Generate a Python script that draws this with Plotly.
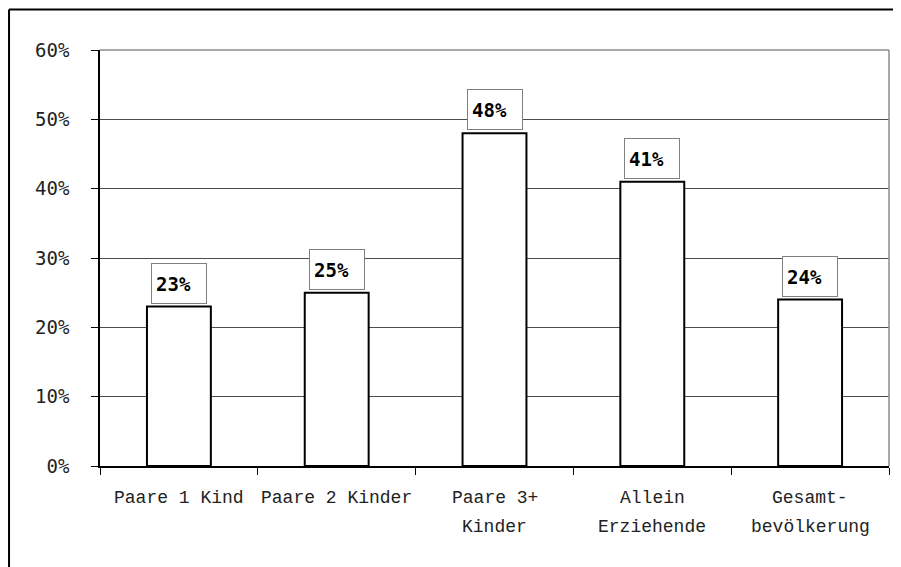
import plotly.graph_objects as go

categories = ["Paare 1 Kind", "Paare 2 Kinder", "Paare 3+ Kinder", "Allein Erziehende", "Gesamt-bevölkerung"]
label_line1 = ["Paare 1 Kind", "Paare 2 Kinder", "Paare 3+", "Allein", "Gesamt-"]
label_line2 = ["", "", "Kinder", "Erziehende", "bevölkerung"]
values = [23, 25, 48, 41, 24]
value_labels = ["23%", "25%", "48%", "41%", "24%"]
y_ticks = [0, 10, 20, 30, 40, 50, 60]
y_tick_labels = ["0%", "10%", "20%", "30%", "40%", "50%", "60%"]

fig = go.Figure()
fig.add_trace(go.Bar(
    x=categories, y=values,
    marker=dict(color="white", line=dict(color="black", width=2)),
    hoverinfo="skip",
))

annotations = []
for c, v, t in zip(categories, values, value_labels):
    annotations.append(dict(
        x=c, y=v, xref="x", yref="y", text=t, showarrow=False,
        yanchor="bottom", yshift=3, align="left",
        width=46, height=31, borderpad=4, borderwidth=1,
        bordercolor="#808080", bgcolor="white",
        font=dict(family="DejaVu Sans Mono", size=19, color="black", weight="bold"),
    ))
for c, l1, l2 in zip(categories, label_line1, label_line2):
    annotations.append(dict(
        x=c, y=0, xref="x", yref="paper", text=l1, showarrow=False,
        yanchor="middle", yshift=-32,
        font=dict(family="Liberation Mono", size=18, color="#222"),
    ))
    if l2:
        annotations.append(dict(
            x=c, y=0, xref="x", yref="paper", text=l2, showarrow=False,
            yanchor="middle", yshift=-61,
            font=dict(family="Liberation Mono", size=18, color="#222"),
        ))

shapes = [
    # plot area top/right border (gray)
    dict(type="line", xref="paper", yref="paper", x0=0, x1=1, y0=1, y1=1,
         line=dict(color="#8c8c8c", width=1.5)),
    dict(type="line", xref="paper", yref="paper", x0=1, x1=1, y0=0, y1=1,
         line=dict(color="#8c8c8c", width=1.5)),
    # outer chart border (top and left)
    dict(type="line", xref="paper", yref="paper", x0=-0.1153, x1=1.02, y0=1.0975, y1=1.0975,
         line=dict(color="black", width=2)),
    dict(type="line", xref="paper", yref="paper", x0=-0.1153, x1=-0.1153, y0=1.0975, y1=-0.25,
         line=dict(color="black", width=2)),
]

fig.update_layout(
    width=893, height=559,
    margin=dict(l=92, r=12, t=42, b=101),
    paper_bgcolor="white", plot_bgcolor="white",
    bargap=0.595, showlegend=False,
    annotations=annotations, shapes=shapes,
    xaxis=dict(
        type="category", showticklabels=False,
        ticks="outside", ticklen=7, tickcolor="black", tickwidth=1,
        tickson="boundaries",
        showline=True, linecolor="black", linewidth=1.5,
        showgrid=False, zeroline=False,
    ),
    yaxis=dict(
        range=[0, 60], tickvals=y_ticks, ticktext=y_tick_labels,
        ticks="outside", ticklen=7, tickcolor="black", tickwidth=1,
        ticklabelstandoff=18,
        tickfont=dict(family="DejaVu Sans Mono", size=19, color="#222"),
        showline=True, linecolor="black", linewidth=1.5,
        showgrid=True, gridcolor="#4d4d4d", gridwidth=1,
        zeroline=False,
    ),
)

fig.write_html("out.html")
